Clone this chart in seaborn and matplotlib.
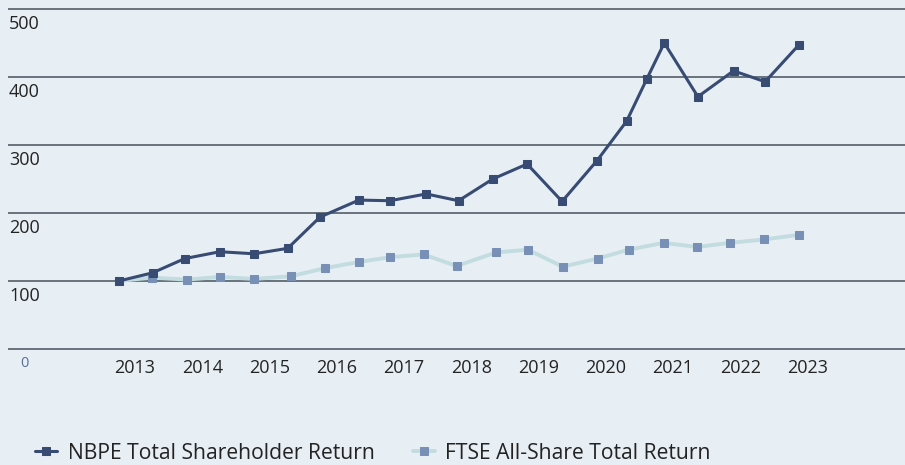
import matplotlib
matplotlib.use("Agg")
import matplotlib.pyplot as plt
import seaborn as sns
import pandas as pd

# Half-yearly observation dates (fractional years) and rebased values
nbpe_dates = [2012.76, 2013.26, 2013.74, 2014.26, 2014.77, 2015.27, 2015.75,
              2016.33, 2016.79, 2017.33, 2017.81, 2018.32, 2018.83, 2019.35,
              2019.87, 2020.31, 2020.61, 2020.87, 2021.37, 2021.90, 2022.37,
              2022.87]
nbpe_values = [100, 112, 133, 143, 140, 148, 194, 219, 218, 228, 218, 250,
               272, 217, 277, 335, 397, 450, 371, 409, 393, 447]

ftse_dates = [2012.76, 2013.25, 2013.77, 2014.26, 2014.77, 2015.32, 2015.83,
              2016.33, 2016.79, 2017.29, 2017.78, 2018.37, 2018.84, 2019.36,
              2019.88, 2020.34, 2020.86, 2021.36, 2021.84, 2022.35, 2022.88]
ftse_values = [100, 105, 102, 106, 103, 107, 119, 128, 135, 139, 122, 142,
               146, 121, 133, 146, 156, 150, 156, 161, 168]

year_ticks = [2013, 2014, 2015, 2016, 2017, 2018, 2019, 2020, 2021, 2022, 2023]
y_ticks = [0, 100, 200, 300, 400, 500]

series_names = ["NBPE Total Shareholder Return", "FTSE All-Share Total Return"]

BG = "#e7eff5"
NAVY = "#374b73"
STEEL = "#7890b6"
PALE = "#c3dce0"
TEXT = "#232323"

sns.set_theme(style="white")
plt.rcParams["font.family"] = ["Open Sans", "DejaVu Sans"]

nbpe_df = pd.DataFrame({"date": nbpe_dates, "value": nbpe_values})
ftse_df = pd.DataFrame({"date": ftse_dates, "value": ftse_values})

fig = plt.figure(figsize=(9.05, 4.65), dpi=100, facecolor=BG)
ax = fig.add_axes([8 / 905, 0.2422, 897 / 905, 0.988 - 0.2422])
ax.set_facecolor(BG)

sns.lineplot(data=ftse_df, x="date", y="value", ax=ax, color=PALE,
             linewidth=2.8, marker="s", markersize=6.2,
             markerfacecolor=STEEL, markeredgecolor=STEEL,
             label=series_names[1], zorder=3)
sns.lineplot(data=nbpe_df, x="date", y="value", ax=ax, color=NAVY,
             linewidth=2.2, marker="s", markersize=6.2,
             markerfacecolor=NAVY, markeredgecolor=NAVY,
             label=series_names[0], zorder=4)

ax.set_xlim(2011.11, 2024.45)
ax.set_ylim(-5, 505)
ax.set_xlabel("")
ax.set_ylabel("")

# horizontal gridlines only
ax.set_yticks(y_ticks)
ax.yaxis.grid(True, color="#46515b", linewidth=1.1)
ax.set_axisbelow(True)
ax.tick_params(axis="y", length=0, labelleft=False)
for s in ax.spines.values():
    s.set_visible(False)

ax.set_xticks(year_ticks)
ax.set_xticklabels([str(y) for y in year_ticks])
ax.tick_params(axis="x", length=0, pad=5, labelsize=13, labelcolor=TEXT)

# value labels sit just under each gridline, at the left edge
for v in y_ticks:
    if v == 0:
        ax.annotate("0", xy=(0, v), xycoords=("axes fraction", "data"),
                    xytext=(12, -7), textcoords="offset pixels",
                    ha="left", va="top", fontsize=10.5, color="#5a6e98")
    else:
        ax.annotate(str(v), xy=(0, v), xycoords=("axes fraction", "data"),
                    xytext=(1, -6), textcoords="offset pixels",
                    ha="left", va="top", fontsize=13, color=TEXT)

handles, labels = ax.get_legend_handles_labels()
order = [labels.index(n) for n in series_names]
ax.get_legend().remove()
fig.legend([handles[i] for i in order], [labels[i] for i in order],
           loc="center left", bbox_to_anchor=(35 / 905, 1 - 453 / 465),
           ncol=2, frameon=False, fontsize=15.2, handlelength=1.05,
           handletextpad=0.5, columnspacing=1.8, borderpad=0,
           borderaxespad=0, markerscale=0.85, labelcolor=TEXT)

fig.savefig("out.png", dpi=100, facecolor=BG)
